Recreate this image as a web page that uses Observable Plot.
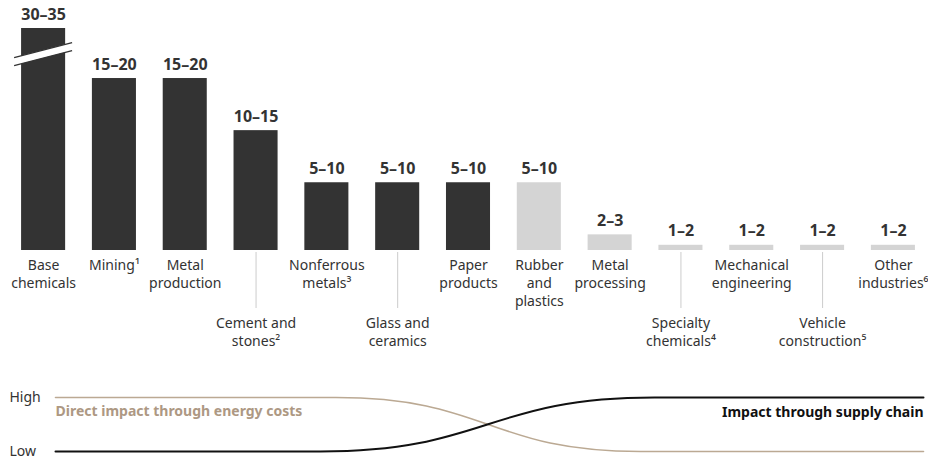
<!DOCTYPE html>
<html>
<head>
<meta charset="utf-8">
<script src="https://cdn.jsdelivr.net/npm/d3@7"></script>
<script src="https://cdn.jsdelivr.net/npm/@observablehq/plot@0.6"></script>
<style>
  html, body { margin: 0; padding: 0; background: #fff; }
  #chart svg { display: block; }
</style>
</head>
<body>
<div id="chart"></div>
<script>
// Industries, their estimated impact range (low–high) and how each is labelled
const industries = [
  "Base chemicals", "Mining", "Metal production", "Cement and stones",
  "Nonferrous metals", "Glass and ceramics", "Paper products",
  "Rubber and plastics", "Metal processing", "Specialty chemicals",
  "Mechanical engineering", "Vehicle construction", "Other industries"
];
const labels = [
  "Base\nchemicals", "Mining¹", "Metal\nproduction", "Cement and\nstones²",
  "Nonferrous\nmetals³", "Glass and\nceramics", "Paper\nproducts",
  "Rubber\nand\nplastics", "Metal\nprocessing", "Specialty\nchemicals⁴",
  "Mechanical\nengineering", "Vehicle\nconstruction⁵", "Other\nindustries⁶"
];
const rangeLow  = [30, 15, 15, 10, 5, 5, 5, 5, 2, 1, 1, 1, 1];
const rangeHigh = [35, 20, 20, 15, 10, 10, 10, 10, 3, 2, 2, 2, 2];
const energyIntensive = [true, true, true, true, true, true, true, false, false, false, false, false, false];
const lowerRow = [false, false, false, true, false, true, false, false, false, true, false, true, false];

// Value at which the first (off-scale) bar is shown broken
const breakValue = 19.8;

// Impact curves along the industry spectrum (0 = left, 1 = right)
const energyPos   = [0, 0.323, 0.674, 1];
const energyLevel = [1, 1, 0, 0];
const supplyPos   = [0, 0.305, 0.69, 1];
const supplyLevel = [0, 0, 1, 1];

const rows = industries.map((name, i) => ({
  name,
  label: labels[i],
  low: rangeLow[i],
  high: rangeHigh[i],
  mid: (rangeLow[i] + rangeHigh[i]) / 2,
  text: `${rangeLow[i]}–${rangeHigh[i]}`,
  dark: energyIntensive[i],
  lower: lowerRow[i]
}));

const font = "'Noto Sans', 'DejaVu Sans', sans-serif";
const ink = "#333333";

// Scale-break marker drawn across the first bar
function breakMarker(category, value) {
  return (index, scales) => {
    const bw = typeof scales.x.bandwidth === "function" ? scales.x.bandwidth() : 44;
    const cx = scales.x(category) + bw / 2;
    const cy = scales.y(value);
    const half = 29, slope = -0.2586, gap = 4;
    const yAt = (x, off) => cy + off + slope * (x - cx);
    const x0 = cx - half, x1 = cx + half;
    const g = d3.create("svg:g");
    g.append("polygon")
      .attr("points", [
        [x0, yAt(x0, -gap)], [x1, yAt(x1, -gap)],
        [x1, yAt(x1, gap)], [x0, yAt(x0, gap)]
      ].map(p => p.join(",")).join(" "))
      .attr("fill", "#ffffff");
    for (const off of [-gap, gap]) {
      g.append("line")
        .attr("x1", x0).attr("y1", yAt(x0, off))
        .attr("x2", x1).attr("y2", yAt(x1, off))
        .attr("stroke", ink).attr("stroke-width", 1.2);
    }
    return g.node();
  };
}

const labelStyle = {
  x: "name", text: "label", frameAnchor: "bottom",
  lineAnchor: "top", lineHeight: 1.27, fontSize: 14, fill: ink
};

const bars = Plot.plot({
  width: 928,
  height: 365,
  marginTop: 28,
  marginBottom: 115,
  marginLeft: 14,
  marginRight: 6,
  style: { fontFamily: font, fontSize: "14px", color: ink, background: "#fff", overflow: "visible" },
  x: { type: "band", domain: industries, paddingInner: 0.378, paddingOuter: 0.1, round: false, axis: null },
  y: { domain: [1, 22.3], clamp: true, axis: null },
  marks: [
    Plot.ruleX(rows.filter(d => d.lower), {
      x: "name", stroke: "#cccccc", strokeWidth: 1, insetTop: 224, insetBottom: -58
    }),
    Plot.barY(rows, {
      x: "name", y1: 1, y2: "mid",
      fill: d => d.dark ? "#333333" : "#d4d4d4"
    }),
    Plot.text(rows, {
      x: "name", y: "mid", text: "text",
      dy: -9, lineAnchor: "bottom",
      fontSize: 16, fontWeight: "bold", fill: ink
    }),
    Plot.text(rows.filter(d => !d.lower), { ...labelStyle, dy: 7 }),
    Plot.text(rows.filter(d => d.lower), { ...labelStyle, dy: 65 }),
    Plot.dot([industries[0]], { x: d => d, r: 0, render: breakMarker(industries[0], breakValue) })
  ]
});

const energyData = energyPos.map((p, i) => ({ pos: p, level: energyLevel[i] }));
const supplyData = supplyPos.map((p, i) => ({ pos: p, level: supplyLevel[i] }));

const curves = Plot.plot({
  width: 928,
  height: 96,
  marginTop: 32,
  marginBottom: 10,
  marginLeft: 55,
  marginRight: 5,
  style: { fontFamily: font, fontSize: "14px", color: ink, background: "#fff", overflow: "visible" },
  x: { domain: [0, 1], axis: null },
  y: { domain: [0, 1], axis: null },
  marks: [
    Plot.line(energyData, { x: "pos", y: "level", curve: "bump-x", stroke: "#bba993", strokeWidth: 1.6 }),
    Plot.line(supplyData, { x: "pos", y: "level", curve: "bump-x", stroke: "#111111", strokeWidth: 2 }),
    Plot.text(["High", "Low"], {
      frameAnchor: "left", y: (d, i) => 1 - i, dx: -46,
      text: d => d, textAnchor: "start", fontSize: 14, fill: ink
    }),
    Plot.text(["Direct impact through energy costs"], {
      x: 0, y: 1, text: d => d, dy: 18, lineAnchor: "bottom",
      textAnchor: "start", fontSize: 14, fontWeight: "bold", fill: "#ad9883"
    }),
    Plot.text(["Impact through supply chain"], {
      x: 1, y: 1, text: d => d, dy: 19, lineAnchor: "bottom",
      textAnchor: "end", fontSize: 14, fontWeight: "bold", fill: "#111111"
    })
  ]
});

const chart = document.getElementById("chart");
chart.append(bars, curves);
</script>
</body>
</html>
